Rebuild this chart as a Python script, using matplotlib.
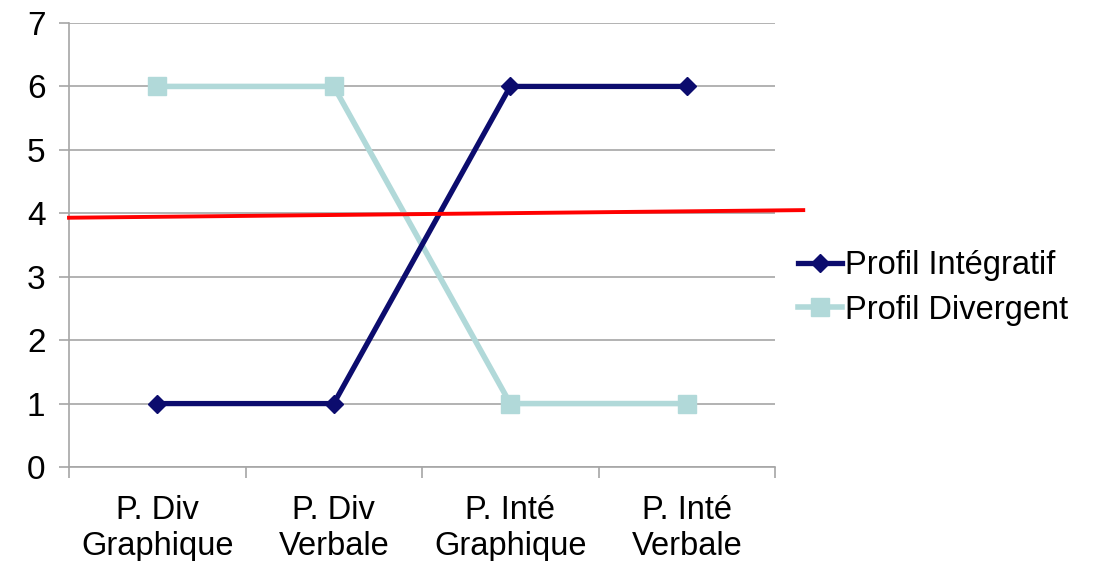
import matplotlib
matplotlib.use("Agg")
import matplotlib.pyplot as plt
from matplotlib.ticker import FixedLocator

plt.rcParams['font.family'] = ['Liberation Sans', 'DejaVu Sans']

categories = ["P. Div\nGraphique", "P. Div\nVerbale", "P. Inté\nGraphique", "P. Inté\nVerbale"]
integratif = [1, 1, 6, 6]
divergent = [6, 6, 1, 1]
trend_x = [-0.5, 3.66]
trend_y = [3.93, 4.05]
yticks = [0, 1, 2, 3, 4, 5, 6, 7]

navy = "#0c0c6e"
teal = "#b1d9d9"
grid = "#a6a6a6"

fig = plt.figure(figsize=(10.94, 5.61), dpi=100)
ax = fig.add_axes([69/1094, 94/561, (775-69)/1094, (467-23)/561])

x = list(range(len(categories)))
ax.plot(x, integratif, color=navy, lw=3.8, marker='D', markersize=9.5,
        label="Profil Intégratif", zorder=4)
ax.plot(x, divergent, color=teal, lw=4.0, marker='s', markersize=12.5,
        label="Profil Divergent", zorder=3)
ax.plot(trend_x, trend_y, color="#ff0000", lw=2.8, clip_on=False, zorder=5)

ax.set_xlim(-0.5, 3.5)
ax.set_ylim(0, 7)
ax.set_yticks(yticks)
ax.set_xticks(x)
ax.set_xticklabels(categories)
ax.xaxis.set_minor_locator(FixedLocator([-0.5, 0.5, 1.5, 2.5, 3.5]))
ax.tick_params(axis='x', which='major', length=0, pad=20, labelsize=23.5)
ax.tick_params(axis='x', which='minor', length=8, color=grid, width=1.2)
ax.tick_params(axis='y', length=7, color=grid, width=1.2, labelsize=24, pad=10)
ax.yaxis.grid(True, color=grid, lw=1.2)
ax.set_axisbelow(True)
for s in ['top', 'right']:
    ax.spines[s].set_visible(False)
for s in ['left', 'bottom']:
    ax.spines[s].set_color(grid)
    ax.spines[s].set_linewidth(1.2)
for lbl in ax.get_xticklabels():
    lbl.set_linespacing(1.2)

fig.legend(loc='center left', bbox_to_anchor=(798/1094, 1 - 288/561), frameon=False,
           fontsize=23.5, handlelength=1.35, handletextpad=0.1, labelspacing=0.4,
           borderaxespad=0, borderpad=0)

fig.savefig("out.png", dpi=100, facecolor='white')
